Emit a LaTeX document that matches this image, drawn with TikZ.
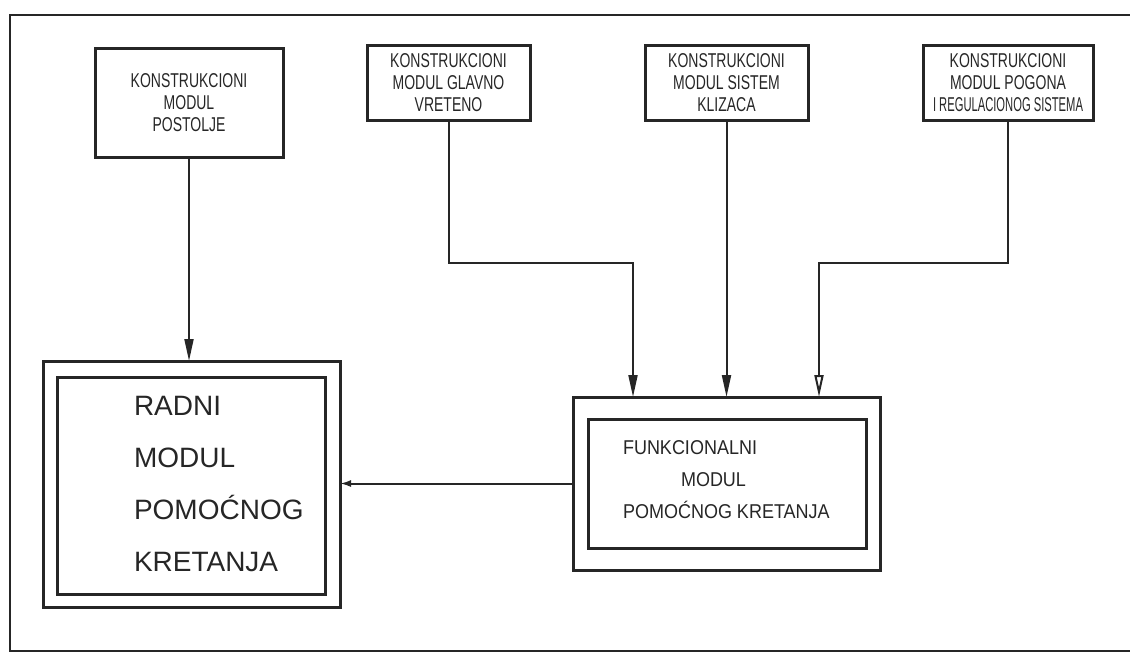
\documentclass[tikz,border=0pt]{standalone}
\usepackage{fontspec}
\setmainfont{Liberation Sans}
\newfontfamily\plotfont[FakeStretch=0.7]{Liberation Sans}
\newfontfamily\plotuska[FakeStretch=0.56]{Liberation Sans}
\newfontfamily\plotsiri[FakeStretch=0.9]{Liberation Sans}
\usetikzlibrary{arrows.meta}

\begin{document}
\begin{tikzpicture}[x=1pt,y=-1pt,line width=2pt,color=black!85,
  >={Triangle[length=22pt,width=9pt]},
  kutija/.style={draw,line width=3pt,inner sep=0pt,outer sep=0pt,align=center,
    font=\fontsize{20}{22}\plotfont},
  veza/.style={->,line width=2pt}]
  \useasboundingbox (0,0) rectangle (1130,656);
  % okvir
  \draw (1130,15) -- (10,15) -- (10,651) -- (1130,651);
  % konstrukcioni moduli
  \node[kutija,minimum width=188pt,minimum height=109pt] (postolje) at (189,102.5)
    {KONSTRUKCIONI\\MODUL\\POSTOLJE};
  \node[kutija,minimum width=163pt,minimum height=75pt] (vreteno) at (448.5,82.5)
    {KONSTRUKCIONI\\MODUL GLAVNO\\VRETENO};
  \node[kutija,minimum width=163pt,minimum height=75pt] (klizaci) at (726.5,82.5)
    {KONSTRUKCIONI\\MODUL SISTEM\\KLIZACA};
  \node[kutija,minimum width=170pt,minimum height=75pt] (pogon) at (1008,82.5)
    {KONSTRUKCIONI\\MODUL POGONA\\{\plotuska I REGULACIONOG SISTEMA}};
  % radni modul
  \node[kutija,minimum width=297pt,minimum height=246pt] (radni) at (191.5,484) {};
  \node[kutija,minimum width=268pt,minimum height=217pt] (radniu) at (191,485.5) {};
  \node[anchor=west,align=left,inner sep=0pt,font=\fontsize{28}{52}\selectfont]
    (radnitxt) at (133,484) {RADNI\\MODUL\\POMOĆNOG\\KRETANJA};
  % funkcionalni modul
  \node[kutija,minimum width=307pt,minimum height=173pt] (funk) at (726.5,483.5) {};
  \node[kutija,minimum width=278pt,minimum height=129pt] (funku) at (727,483.5) {};
  \node[anchor=west,align=left,inner sep=0pt,font=\fontsize{20}{32}\plotsiri]
    (funktxt) at (622,480) {FUNKCIONALNI\\\hspace*{58pt}MODUL\\POMOĆNOG KRETANJA};
  % tacke loma i ulaza
  \coordinate (lomv) at (633,263);
  \coordinate (ulazv) at (633,397);
  \coordinate (lomp) at (819,263);
  \coordinate (ulazp) at (819,397);
  % veze
  \draw[veza] (postolje.south) -- (postolje.south |- radni.north);
  \draw[veza] (vreteno.south) |- (lomv) -- (ulazv);
  \draw[veza] (klizaci.south) -- (klizaci.south |- funk.north);
  \draw[veza,-{Triangle[open,length=22pt,width=9pt]}] (pogon.south) |- (lomp) -- (ulazp);
  \draw[veza,-{Latex[length=11pt,width=7pt]}] (funk.west) -- (funk.west -| radni.east);
\end{tikzpicture}
\end{document}
